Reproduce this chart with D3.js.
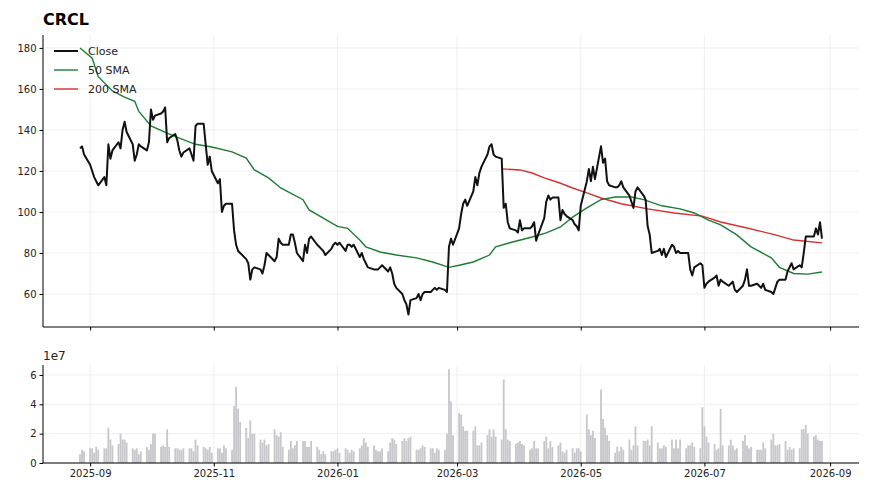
<!DOCTYPE html>
<html><head><meta charset="utf-8">
<script src="https://cdn.jsdelivr.net/npm/d3@7"></script>
<style>body{margin:0;background:#fff}svg{font-family:"DejaVu Sans",sans-serif}</style>
</head><body><svg id="c" width="870" height="495"></svg>
<script>
const ticker = "CRCL";
const startDate = "2025-08-27";
const closes = [131,132,128,123,120,117,115,113,117,113,133,126,130,134,131,140,144,139,133,125,
128,133,132,130,134,150,145,147,148,149,151,134,136,138,135,130,127,129,131,128,
125,142,143,143,133,123,127,120,114,116,100,103,104,104,91,84,81,80,77,75,
67,72,73,72,70,74,80,79,76,78,87,85,84,84,89,89,85,80,76,84,
80,87,88,84,83,82,81,79,82,84,85,84,85,81,84,84,83,84,78,80,
77,75,73,72,72,72,73,74,71,73,70,65,63,60,57,55,50,57,58,60,
57,60,61,61,62,63,62,63,62,61,83,87,84,92,99,104,106,103,110,117,
113,119,122,128,132,133,128,127,126,102,104,95,92,91,90,96,91,92,92,93,
95,86,89,97,105,108,106,107,107,96,101,99,98,96,94,93,91,103,115,121,
115,122,116,132,124,126,115,113,112,112,113,115,112,108,105,102,110,112,108,106,
93,89,80,81,82,79,82,78,84,83,80,81,80,80,80,72,69,73,75,74,
63,65,66,68,69,64,67,66,64,65,66,62,61,64,67,72,64,64,65,64,
63,65,62,61,60,63,66,67,67,71,73,75,72,74,73,80,88,88,88,92,89,95,87];
const volumesM = [6,9,8, 10,10,7,11,9, 10,10,24,16,12, 13,20,16,16,14, 10,9,10,6,8, 11,9,13,20,20,
11,12,11,23,11, 10,10,9,9,10, 10,10,8,16,12, 11,10,9,11,7, 10,10,7,12,10, 9,39,52,37,28,
24,17,29,20,20, 16,14,16,12,13, 23,19,18,21,11, 9,15,10,12,15, 15,15,11,11,15, 11,9,6,8,6,
8,8,9,10,7, 10,9,7,9,8, 10,12,17,14,11, 12,9,8,8,10, 8,14,17,16,13, 15,17,15,17,18,
9,9,10,12,11, 10,10,7,10,9, 9,20,64,42,19, 34,33,25,22,22, 22,25,12,12,14, 19,23,18,23,18,
16,57,23,16,15, 13,14,15,13,12, 9,10,15,10,10, 15,18,10,15,11, 12,14,8,7,9, 10,7,10,10,8,
33,23,19,22,17, 50,30,24,19,15, 7,11,8,11,9, 16,9,12,25,12, 15,15,16,12,25, 14,10,10,12,11,
16,10,16,10,16, 10,12,12,14,11, 10,38,25,18,14, 13,9,10,37,12, 12,16,12,9,10, 15,19,12,10,11,
9,9,9,14,10, 16,20,12,12,13, 15,9,11,9,10, 10,23,23,26,20, 18,19,16,15,15];
// SMA samples: [trading-day index, value]
const sma50 = [[0,180],[4,175],[7,166],[12,159],[16,156],[19,154],[21,149],[25,142],[31,138.5],[35,136],
[41,133],[47,131.7],[53,129.3],[58,126.3],[62,120.5],[67,116.6],[71,111.7],[78,106],[81,101],[86,97],
[91,93],[94,92],[98,86.3],[101,83],[106,80.5],[112,79],[118,77.6],[124,75.6],[130,73],[133,74],
[138,75.6],[144,79],[147,83],[152,85],[159,87.8],[164,89.8],[169,92.7],[173,97.5],[178,102],[183,106],
[188,107.3],[194,107.3],[198,106],[205,103],[212,101.5],[217,99.5],[222,96],[226,93.7],[232,88.8],[237,83],
[243,77.6],[247,73],[252,70],[257,69.7],[262,70.7]];
const sma200 = [[148,121],[155,120.5],[159,119],[163,116.6],[169,114],[173,111.7],[178,109.3],[183,106.8],[191,104],[200,101.5],
[209,99.5],[219,98],[226,95.1],[235,92.2],[245,88.8],[252,86.3],[262,84.9]];
const priceTicks = [60,80,100,120,140,160,180];
const volTicks = [0,2,4,6];
const legendLabels = ["Close","50 SMA","200 SMA"];
const colors = ["#111111","#1e7b34","#d62f2f"];

// trading dates (weekdays)
const dates = [];
{ let d = new Date(startDate+"T00:00:00");
  while (dates.length < closes.length) { const w=d.getDay(); if(w!==0&&w!==6) dates.push(new Date(d)); d=new Date(d.getTime()+86400000); } }

const svg = d3.select("#c");
const L=43,R=859, pT=35,pB=327, vT=365,vB=463;
const x = d3.scaleTime().domain(d3.extent(dates)).range([80,822]);
const yP = d3.scaleLinear().domain([43.9,186.3]).range([pB,pT]);
const yV = d3.scaleLinear().domain([0,6.68e7]).range([vB,vT]);
const monthTicks = d3.timeMonth.every(2).range(new Date("2025-09-01T00:00:00"), new Date("2026-09-02T00:00:00"));
const grid="#ebebeb";
function grids(y,ticks,top,bot){
  svg.append("g").selectAll("line").data(monthTicks).join("line")
    .attr("x1",d=>x(d)).attr("x2",d=>x(d)).attr("y1",top).attr("y2",bot).attr("stroke",grid).attr("stroke-width",0.8);
  svg.append("g").selectAll("line").data(ticks).join("line")
    .attr("x1",L).attr("x2",R).attr("y1",d=>y(d)).attr("y2",d=>y(d)).attr("stroke",grid).attr("stroke-width",0.8);
}
grids(yP,priceTicks,pT,pB);
grids(yV,volTicks.map(v=>v*1e7),vT,vB);

// volume bars
svg.append("g").selectAll("rect").data(volumesM).join("rect")
  .attr("x",(d,i)=>x(dates[i])-0.9).attr("width",1.8)
  .attr("y",d=>yV(d*1e6)).attr("height",d=>vB-yV(d*1e6)).attr("fill","#c6c6cb");

const line=d3.line().x(d=>x(d[0])).y(d=>yP(d[1]));
svg.append("path").datum(sma200.map(p=>[dates[p[0]],p[1]])).attr("d",line).attr("fill","none").attr("stroke",colors[2]).attr("stroke-width",1.4);
svg.append("path").datum(sma50.map(p=>[dates[p[0]],p[1]])).attr("d",line).attr("fill","none").attr("stroke",colors[1]).attr("stroke-width",1.4);
svg.append("path").datum(closes.map((c,i)=>[dates[i],c])).attr("d",line).attr("fill","none").attr("stroke",colors[0]).attr("stroke-width",2).attr("stroke-linejoin","round");

// axes
const fmt=d3.timeFormat("%Y-%m");
function axes(y,ticks,tf,top,bot,labels){
  const ya=svg.append("g").attr("transform",`translate(${L},0)`).call(d3.axisLeft(y).tickValues(ticks).tickFormat(tf).tickSize(3.5).tickPadding(3));
  ya.select(".domain").attr("d",`M0,${top}V${bot}`);
  const xa=svg.append("g").attr("transform",`translate(0,${bot})`).call(d3.axisBottom(x).tickValues(monthTicks).tickFormat(labels?fmt:"").tickSize(3.5).tickPadding(3));
  xa.select(".domain").attr("d",`M${L},0H${R}`);
  [ya,xa].forEach(a=>a.selectAll("text").attr("font-size",10).attr("fill","#222").attr("font-family","DejaVu Sans"));
}
axes(yP,priceTicks,d3.format("d"),pT,pB,false);
axes(yV,volTicks.map(v=>v*1e7),d=>d/1e7,vT,vB,true);
svg.append("text").attr("x",L).attr("y",360).attr("font-size",12).attr("fill","#222").text("1e7");
svg.append("text").attr("x",L).attr("y",25).attr("font-size",16).attr("font-weight","bold").text(ticker);

// legend
legendLabels.forEach((t,i)=>{
  const yy=51+i*19;
  svg.append("line").attr("x1",54).attr("x2",78).attr("y1",yy).attr("y2",yy).attr("stroke",colors[i]).attr("stroke-width",i?1.4:2);
  svg.append("text").attr("x",88).attr("y",yy+4).attr("font-size",11).attr("fill","#222").text(t);
});
</script></body></html>
